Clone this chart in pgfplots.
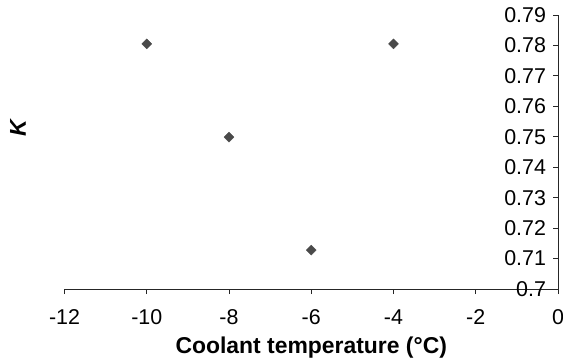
\documentclass[border=0pt]{standalone}
\usepackage{pgfplots}
\pgfplotsset{compat=1.18}
\usepackage{fontspec}
\setmainfont{Liberation Sans}
\definecolor{mk}{HTML}{4A4A4A}
\begin{document}
\begin{tikzpicture}[x=1bp,y=1bp]
\useasboundingbox (-64.5bp,-75bp) rectangle (498.5bp,289bp);
\begin{axis}[
  at={(0,0)}, anchor=south west,
  scale only axis,
  width=493.5bp, height=274bp,
  xmin=-12, xmax=0, ymin=0.7, ymax=0.79,
  axis x line=bottom, axis y line=right,
  axis line style={-, black!85, line width=0.8bp},
  xtick={-12,-10,...,0},
  ytick={0.70,0.71,...,0.795},
  yticklabels={0.7,0.71,0.72,0.73,0.74,0.75,0.76,0.77,0.78,0.79},
  tick align=center,
  major tick length=5bp,
  xtick style={black!85, line width=0.8bp, yshift=-2.5bp},
  ytick style={black!85, line width=0.8bp, xshift=-2.5bp},
  /pgf/number format/assume math mode=true,
  tick label style={font=\fontsize{21.5}{24}\selectfont},
  xticklabel style={anchor=north, yshift=-14.7bp},
  yticklabel style={anchor=east, xshift=-11bp},
  xlabel={\textbf{Coolant temperature (°C)}},
  ylabel={\textbf{\itshape K}},
  xlabel style={font=\fontsize{23}{26}\selectfont, at={(axis description cs:0.5,0)}, anchor=north, yshift=-44bp},
  ylabel style={font=\fontsize{23}{26}\selectfont, at={(axis description cs:-0.0942,0.588)}, anchor=center},
  clip=false,
]
\addplot[only marks, mark=square*, mark size=3.5bp, mark options={rotate=45, fill=mk, draw=mk}] coordinates {
  (-10,0.7805) (-8,0.7499) (-6,0.7128) (-4,0.7805)
};
\end{axis}
\end{tikzpicture}
\end{document}
